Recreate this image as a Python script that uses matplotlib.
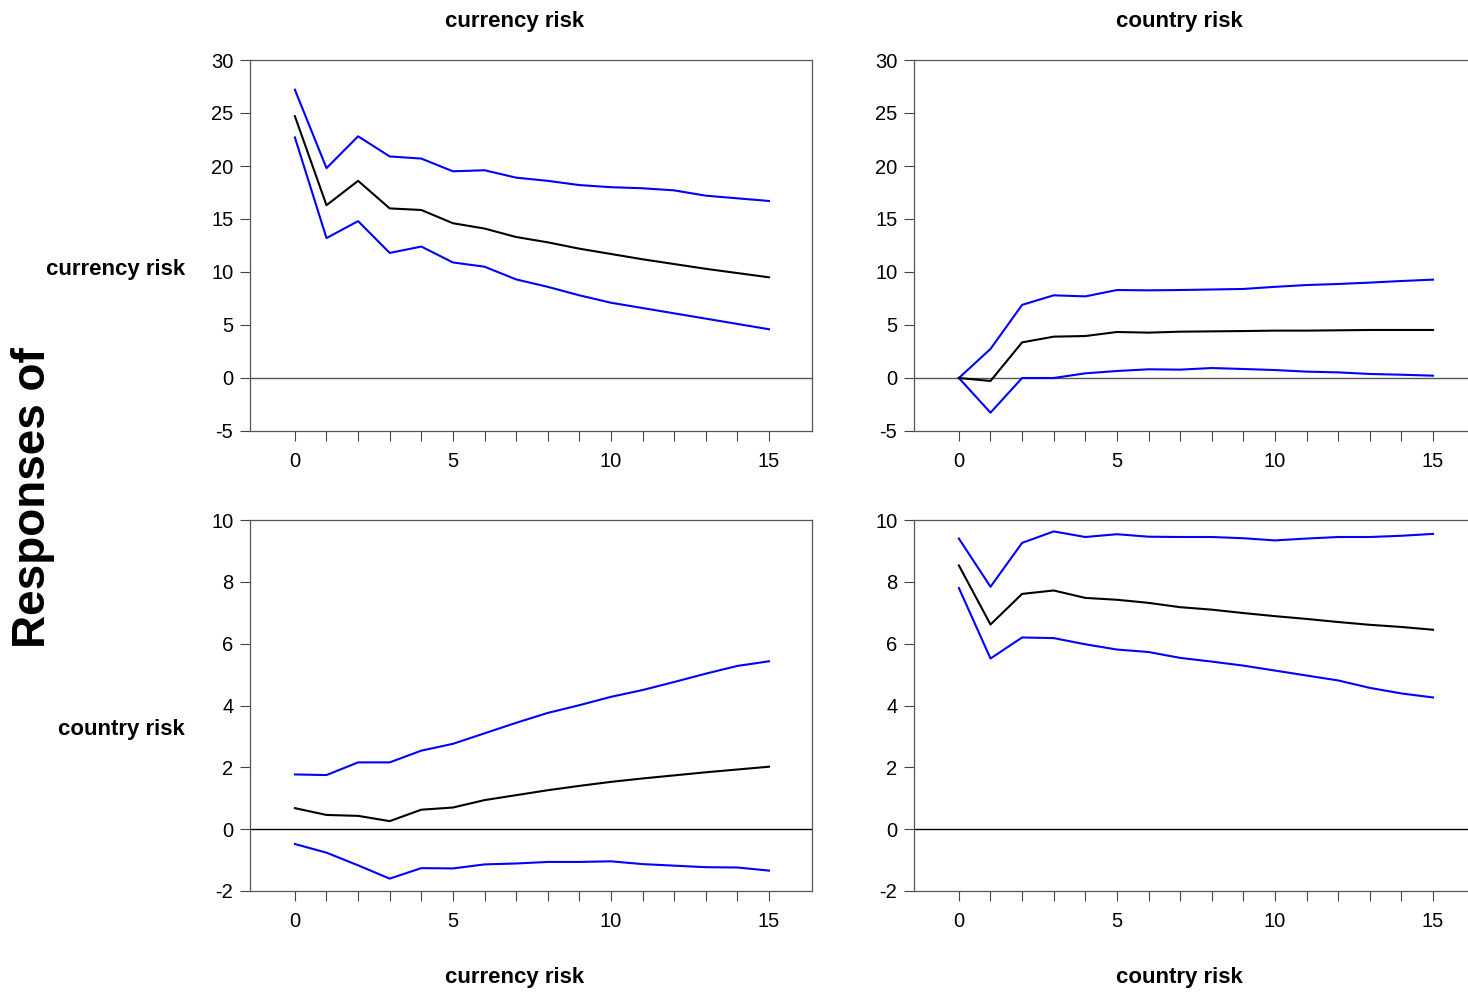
import matplotlib
matplotlib.use("Agg")
import matplotlib.pyplot as plt
from matplotlib import font_manager

periods = list(range(16))

# Response of currency risk to currency risk
cc_upper = [27.2, 19.8, 22.8, 20.9, 20.7, 19.5, 19.6, 18.9, 18.6, 18.2, 18.0, 17.9, 17.7, 17.2, 16.95, 16.7]
cc_mid   = [24.7, 16.3, 18.6, 16.0, 15.85, 14.6, 14.1, 13.3, 12.8, 12.2, 11.7, 11.2, 10.75, 10.3, 9.9, 9.5]
cc_lower = [22.7, 13.2, 14.8, 11.8, 12.4, 10.9, 10.5, 9.3, 8.6, 7.8, 7.1, 6.6, 6.1, 5.6, 5.1, 4.6]

# Response of currency risk to country risk
ck_upper = [0.0, 2.74, 6.9, 7.8, 7.7, 8.3, 8.27, 8.3, 8.35, 8.4, 8.6, 8.77, 8.87, 9.0, 9.15, 9.28]
ck_mid   = [0.0, -0.28, 3.36, 3.9, 3.96, 4.34, 4.28, 4.37, 4.4, 4.43, 4.47, 4.47, 4.5, 4.53, 4.53, 4.53]
ck_lower = [0.0, -3.27, 0.0, 0.0, 0.44, 0.66, 0.82, 0.79, 0.94, 0.85, 0.75, 0.6, 0.53, 0.38, 0.31, 0.22]

# Response of country risk to currency risk
kc_upper = [1.77, 1.75, 2.16, 2.16, 2.54, 2.76, 3.1, 3.44, 3.76, 4.01, 4.28, 4.5, 4.76, 5.03, 5.28, 5.43]
kc_mid   = [0.68, 0.46, 0.43, 0.26, 0.63, 0.7, 0.94, 1.1, 1.26, 1.4, 1.53, 1.64, 1.74, 1.84, 1.93, 2.02]
kc_lower = [-0.48, -0.76, -1.17, -1.6, -1.26, -1.27, -1.14, -1.11, -1.06, -1.06, -1.04, -1.13, -1.18, -1.23, -1.24, -1.34]

# Response of country risk to country risk
kk_upper = [9.4, 7.84, 9.26, 9.63, 9.45, 9.54, 9.46, 9.45, 9.45, 9.41, 9.34, 9.4, 9.45, 9.45, 9.49, 9.55]
kk_mid   = [8.53, 6.62, 7.61, 7.72, 7.48, 7.42, 7.32, 7.18, 7.1, 6.99, 6.89, 6.8, 6.7, 6.61, 6.54, 6.45]
kk_lower = [7.8, 5.52, 6.2, 6.18, 5.98, 5.81, 5.73, 5.54, 5.42, 5.29, 5.13, 4.97, 4.81, 4.57, 4.39, 4.26]

shock_names = ["currency risk", "country risk"]
response_names = ["currency risk", "country risk"]
top_yticks = [-5, 0, 5, 10, 15, 20, 25, 30]
bottom_yticks = [-2, 0, 2, 4, 6, 8, 10]

names = {f.name for f in font_manager.fontManager.ttflist}
narrow = "Liberation Sans Narrow" if "Liberation Sans Narrow" in names else "Liberation Sans"
FAM = [narrow, "DejaVu Sans"]

W, H = 1468, 999
fig = plt.figure(figsize=(W / 100, H / 100), dpi=100)

def px_axes(x0, y0, x1, y1):
    return fig.add_axes([x0 / W, 1 - y1 / H, (x1 - x0) / W, (y1 - y0) / H])

panels = [
    (250, 60, 812, 431, cc_upper, cc_mid, cc_lower, top_yticks, "#555555"),
    (914, 60, 1476, 431, ck_upper, ck_mid, ck_lower, top_yticks, "#555555"),
    (250, 520, 812, 891, kc_upper, kc_mid, kc_lower, bottom_yticks, "black"),
    (914, 520, 1476, 891, kk_upper, kk_mid, kk_lower, bottom_yticks, "black"),
]

for x0, y0, x1, y1, up, mid, lo, yt, zc in panels:
    ax = px_axes(x0, y0, x1, y1)
    ax.axhline(0, color=zc, lw=1.0, zorder=1)
    ax.plot(periods, up, color="#0000FF", lw=1.5, zorder=3)
    ax.plot(periods, lo, color="#0000FF", lw=1.5, zorder=3)
    ax.plot(periods, mid, color="black", lw=1.5, zorder=4)
    ax.set_xlim(-1.42, 16.36)
    ax.set_ylim(yt[0], yt[-1])
    ax.set_yticks(yt)
    ax.set_yticklabels([str(v) for v in yt], fontfamily=FAM, fontsize=14.5)
    ax.set_xticks(periods)
    ax.set_xticklabels([str(p) if p % 5 == 0 else "" for p in periods], fontfamily=FAM, fontsize=14.5)
    ax.tick_params(axis="x", direction="out", length=7, width=0.8, color="#444444", pad=8)
    ax.tick_params(axis="y", direction="out", length=7, width=0.8, color="#444444", pad=5)
    for s in ax.spines.values():
        s.set_color("#555555")
        s.set_linewidth(0.9)

title_kw = dict(fontfamily=FAM, fontsize=16, fontweight="bold", ha="center", va="center")
fig.text(515 / W, 1 - 22 / H, shock_names[0], **title_kw)
fig.text(1179 / W, 1 - 22 / H, shock_names[1], **title_kw)
fig.text(515 / W, 1 - 978 / H, shock_names[0], **title_kw)
fig.text(1179 / W, 1 - 978 / H, shock_names[1], **title_kw)

row_kw = dict(fontfamily=FAM, fontsize=16, fontweight="bold", ha="right", va="center")
fig.text(185 / W, 1 - 270 / H, response_names[0], **row_kw)
fig.text(185 / W, 1 - 730 / H, response_names[1], **row_kw)

fig.text(33 / W, 1 - 498 / H, "Responses of", fontfamily=["Liberation Sans", "DejaVu Sans"],
         fontsize=33, fontweight="bold", rotation=90, ha="center", va="center")

fig.savefig("out.png", dpi=100)
